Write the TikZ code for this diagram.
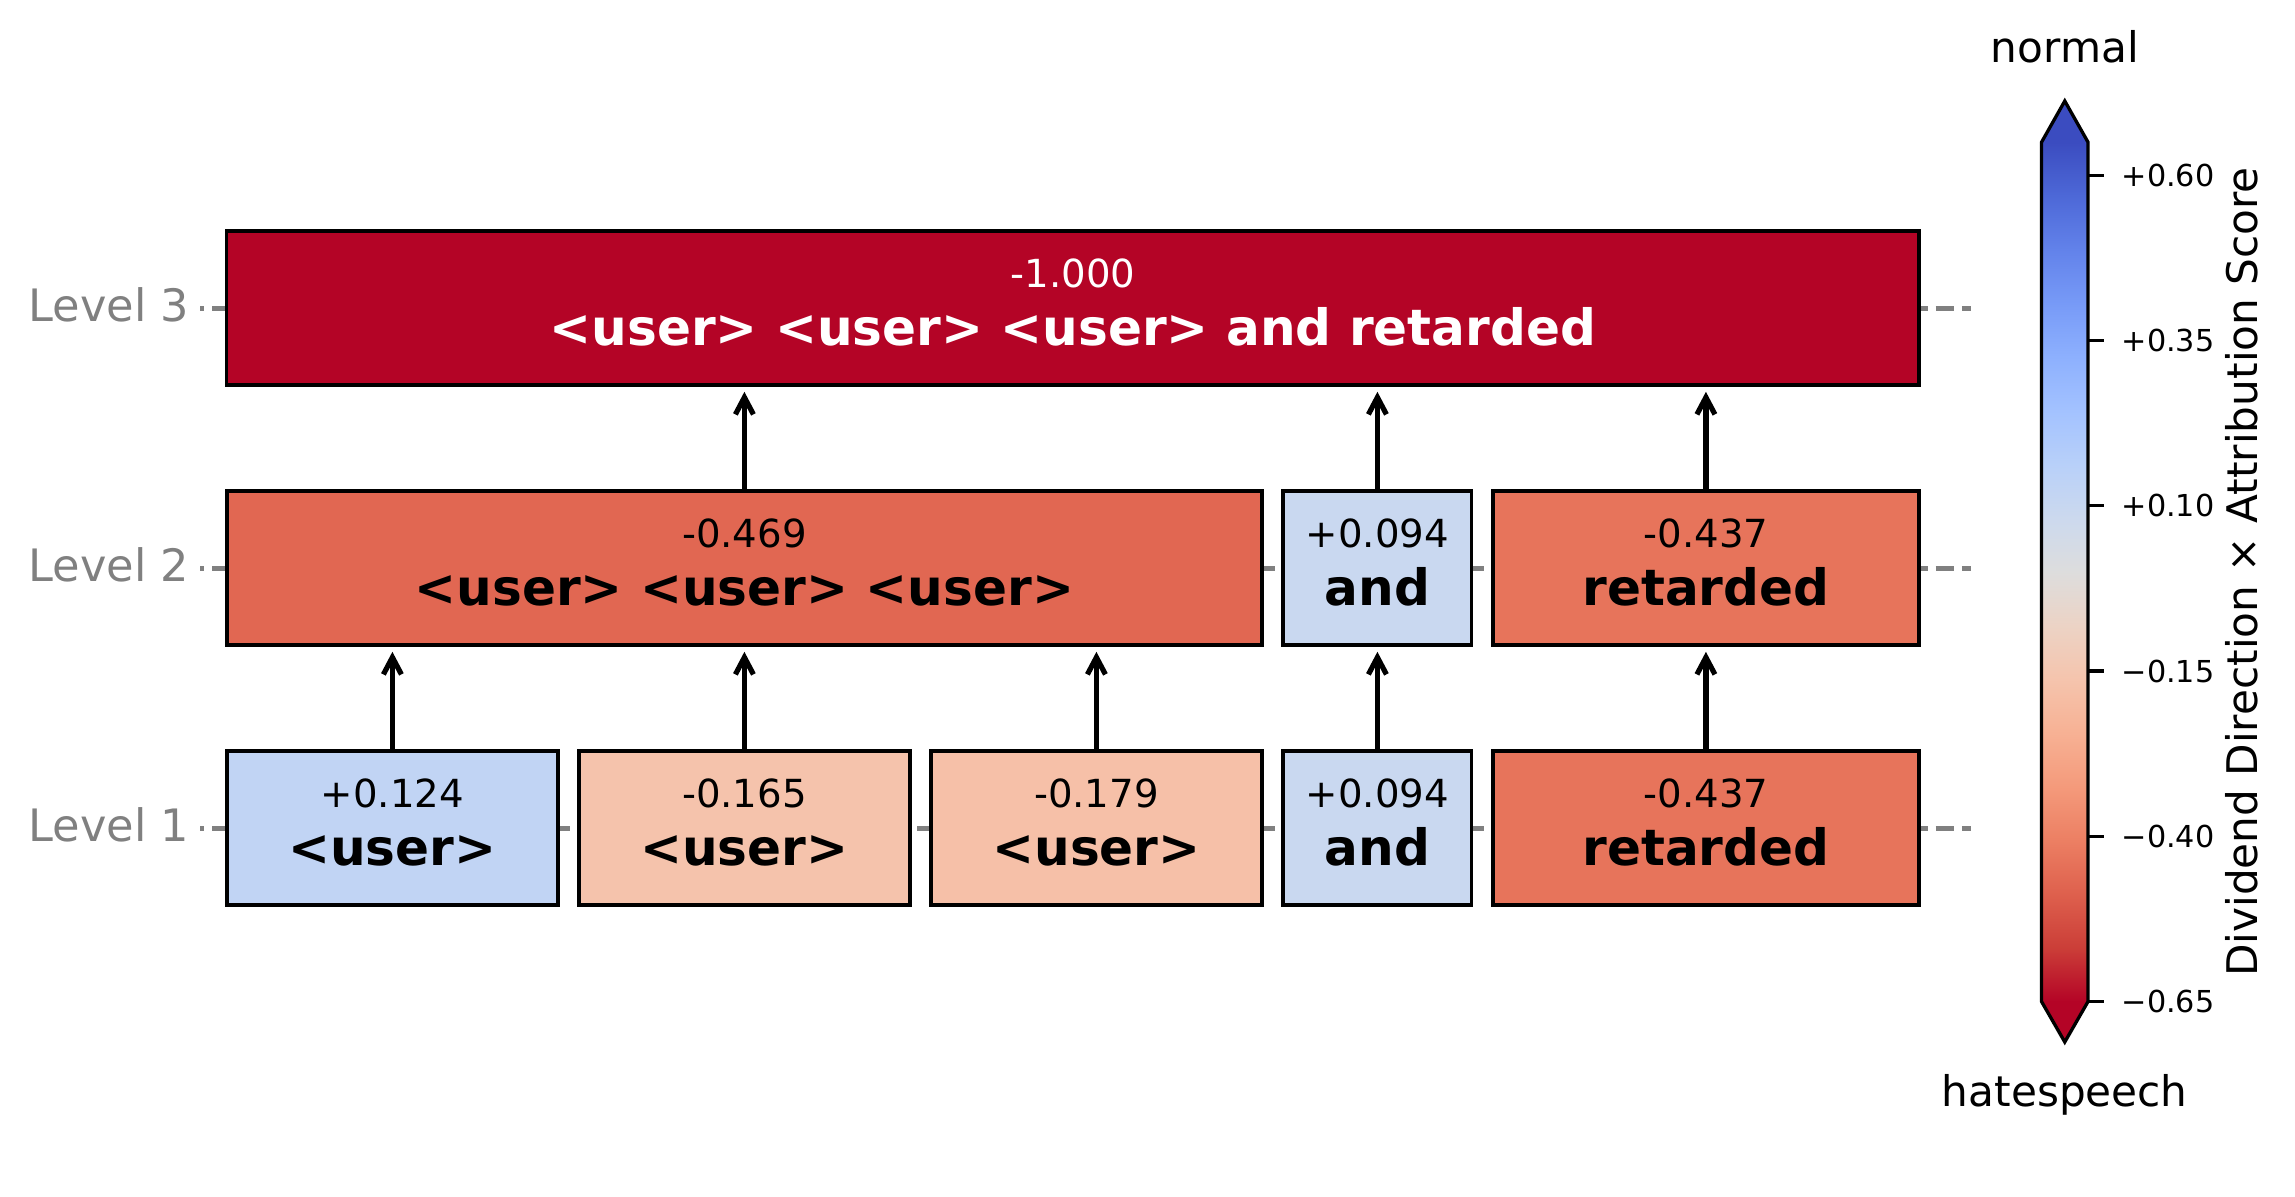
\documentclass[tikz,border=0pt]{standalone}
\usepackage{fontspec}
\setmainfont{DejaVu Sans}
\usetikzlibrary{arrows.meta}
% coolwarm samples, index 0 = red end, 16 = blue end
\definecolor{cw0}{RGB}{180,4,38}
\definecolor{cw1}{RGB}{203,62,56}
\definecolor{cw2}{RGB}{222,96,77}
\definecolor{cw3}{RGB}{236,127,99}
\definecolor{cw4}{RGB}{244,154,123}
\definecolor{cw5}{RGB}{247,177,148}
\definecolor{cw6}{RGB}{245,196,173}
\definecolor{cw7}{RGB}{236,211,197}
\definecolor{cw8}{RGB}{221,221,221}
\definecolor{cw9}{RGB}{204,217,238}
\definecolor{cw10}{RGB}{184,208,249}
\definecolor{cw11}{RGB}{163,194,255}
\definecolor{cw12}{RGB}{141,176,254}
\definecolor{cw13}{RGB}{119,154,247}
\definecolor{cw14}{RGB}{98,130,234}
\definecolor{cw15}{RGB}{77,104,215}
\definecolor{cw16}{RGB}{59,76,192}
% box fills
\definecolor{cUa}{RGB}{193,212,244}
\definecolor{cUb}{RGB}{245,195,172}
\definecolor{cUc}{RGB}{246,192,168}
\definecolor{cAnd}{RGB}{201,216,240}
\definecolor{cRet}{RGB}{231,116,91}
\definecolor{cUsers}{RGB}{225,103,82}
\definecolor{cAll}{RGB}{180,4,38}
\definecolor{lvgray}{RGB}{128,128,128}
\pgfdeclareverticalshading{cwbar}{100bp}{color(0bp)=(cw0); color(25bp)=(cw0);
 color(28.125bp)=(cw1); color(31.25bp)=(cw2); color(34.375bp)=(cw3); color(37.5bp)=(cw4);
 color(40.625bp)=(cw5); color(43.75bp)=(cw6); color(46.875bp)=(cw7); color(50bp)=(cw8);
 color(53.125bp)=(cw9); color(56.25bp)=(cw10); color(59.375bp)=(cw11); color(62.5bp)=(cw12);
 color(65.625bp)=(cw13); color(68.75bp)=(cw14); color(71.875bp)=(cw15); color(75bp)=(cw16);
 color(100bp)=(cw16)}
\begin{document}
\begin{tikzpicture}[x=0.01cm,y=-0.01cm,
  tokbox/.style={draw=black, line width=0.035cm, inner sep=0pt, minimum height=1.54cm},
  wuser/.style={minimum width=3.305cm},
  wand/.style={minimum width=1.885cm},
  wret/.style={minimum width=4.255cm},
  valtxt/.style={anchor=base, inner sep=0pt, font=\fontsize{11pt}{13pt}\selectfont},
  toktxt/.style={anchor=base, inner sep=0pt, font=\fontsize{14.25pt}{16pt}\selectfont\bfseries},
  lvtxt/.style={anchor=base east, inner sep=0pt, text=lvgray, font=\fontsize{12.7pt}{15pt}\selectfont},
  dashline/.style={draw=lvgray, line width=0.05cm, dash pattern=on 0.181cm off 0.08cm, dash phase=0.14cm},
  uparrow/.style={draw=black, line width=0.052cm, -{Straight Barb[length=0.17cm,width=0.18cm]}, shorten >=0.05cm},
  ticktxt/.style={anchor=base west, inner sep=0pt, font=\fontsize{8.6pt}{10pt}\selectfont},
  cbtxt/.style={inner sep=0pt, font=\fontsize{12pt}{14pt}\selectfont}
]
\useasboundingbox (0,0) rectangle (2295,1196);

% level guide lines
\coordinate (d3l) at (200,308); \coordinate (d3r) at (1971,308);
\coordinate (d2l) at (200,568); \coordinate (d2r) at (1971,568);
\coordinate (d1l) at (200,828); \coordinate (d1r) at (1971,828);
\draw[dashline] (d3l) -- (d3r);
\draw[dashline] (d2l) -- (d2r);
\draw[dashline] (d1l) -- (d1r);

\node[lvtxt] (lv3) at (190,321.7) {Level 3};
\node[lvtxt] (lv2) at (190,581.7) {Level 2};
\node[lvtxt] (lv1) at (190,841.7) {Level 1};

% level 1
\node[tokbox, wuser, fill=cUa] (l1a) at (392.4,828) {};
\node[tokbox, wuser, fill=cUb] (l1b) at (744.4,828) {};
\node[tokbox, wuser, fill=cUc] (l1c) at (1096.4,828) {};
\node[tokbox, wand, fill=cAnd] (l1d) at (1377.4,828) {};
\node[tokbox, wret, fill=cRet] (l1e) at (1705.9,828) {};
% level 2
\node[tokbox, minimum width=10.345cm, fill=cUsers] (l2a) at (744.4,568) {};
\node[tokbox, wand, fill=cAnd] (l2b) at (1377.4,568) {};
\node[tokbox, wret, fill=cRet] (l2c) at (1705.9,568) {};
% level 3
\node[tokbox, minimum width=16.915cm, fill=cAll] (l3) at (1072.9,308) {};

% texts level 1
\node[valtxt] (l1av) at (392.4,807) {+0.124};
\node[toktxt] (l1at) at (392.4,865) {<user>};
\node[valtxt] (l1bv) at (744.4,807) {-0.165};
\node[toktxt] (l1bt) at (744.4,865) {<user>};
\node[valtxt] (l1cv) at (1096.4,807) {-0.179};
\node[toktxt] (l1ct) at (1096.4,865) {<user>};
\node[valtxt] (l1dv) at (1377.4,807) {+0.094};
\node[toktxt] (l1dt) at (1377.4,865) {and};
\node[valtxt] (l1ev) at (1705.9,807) {-0.437};
\node[toktxt] (l1et) at (1705.9,865) {retarded};
% texts level 2
\node[valtxt] (l2av) at (744.4,547) {-0.469};
\node[toktxt] (l2at) at (744.4,605) {<user> <user> <user>};
\node[valtxt] (l2bv) at (1377.4,547) {+0.094};
\node[toktxt] (l2bt) at (1377.4,605) {and};
\node[valtxt] (l2cv) at (1705.9,547) {-0.437};
\node[toktxt] (l2ct) at (1705.9,605) {retarded};
% texts level 3
\node[valtxt, text=white] (l3v) at (1072.9,287) {-1.000};
\node[toktxt, text=white] (l3t) at (1072.9,345) {<user> <user> <user> and retarded};

% arrows level 1 -> 2
\draw[uparrow] (l1a.north) -- (l1a.north |- l2a.south);
\draw[uparrow] (l1b.north) -- (l1b.north |- l2a.south);
\draw[uparrow] (l1c.north) -- (l1c.north |- l2a.south);
\draw[uparrow] (l1d.north) -- (l2b.south);
\draw[uparrow] (l1e.north) -- (l2c.south);
% arrows level 2 -> 3
\draw[uparrow] (l2a.north) -- (l2a.north |- l3.south);
\draw[uparrow] (l2b.north) -- (l2b.north |- l3.south);
\draw[uparrow] (l2c.north) -- (l2c.north |- l3.south);

% colorbar
\coordinate (cbtl) at (2041.5,142.2);
\coordinate (cbtr) at (2088,142.2);
\coordinate (cbbl) at (2041.5,1001.5);
\coordinate (cbbr) at (2088,1001.5);
\coordinate (cbtop) at (2064.75,101);
\coordinate (cbbot) at (2064.75,1042);
\shade[shading=cwbar] (cbbl) rectangle (cbtr);
\fill[cw16] (cbtl) -- (cbtop) -- (cbtr) -- cycle;
\fill[cw0] (cbbl) -- (cbbot) -- (cbbr) -- cycle;
\draw[black, line width=0.033cm, line join=miter] (cbtl) -- (cbtop) -- (cbtr) -- (cbbr) -- (cbbot) -- (cbbl) -- cycle;
\foreach \v/\lab in {0.60/+0.60, 0.35/+0.35, 0.10/+0.10, -0.15/−0.15, -0.40/−0.40, -0.65/−0.65}{
  \pgfmathsetmacro{\yy}{571.85-\v*661}
  \draw[black, line width=0.033cm] (2088,\yy) -- (2103.5,\yy);
  \node[ticktxt] at (2121,\yy+11) {\lab};
}
\node[cbtxt, anchor=base] (cbnormal) at (2064.75,62.5) {normal};
\node[cbtxt, anchor=base] (cbhate) at (2064.75,1106) {hatespeech};
\node[cbtxt, rotate=90, anchor=base] (cblabel) at (2257,572) {Dividend Direction × Attribution Score};
\end{tikzpicture}
\end{document}
